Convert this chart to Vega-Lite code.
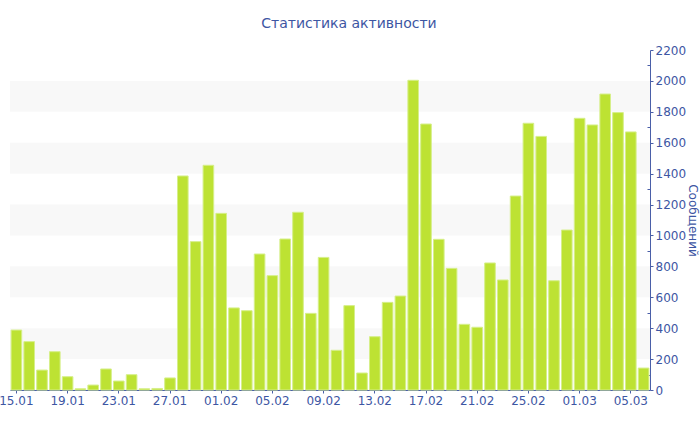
{
  "$schema": "https://vega.github.io/schema/vega-lite/v6.json",
  "width": 640,
  "height": 340,
  "autosize": {"type": "none"},
  "padding": {"left": 10, "top": 50, "right": 50, "bottom": 40},
  "background": "white",
  "title": {"text": "Статистика активности", "fontSize": 14, "font": "DejaVu Sans", "fontWeight": "normal", "color": "#3d56a3", "offset": 13, "dx": 19},
  "config": {
    "view": {"stroke": null},
    "axisY": {
      "orient": "right", "titleFontSize": 12, "titleFontWeight": "normal", "titleColor": "#3d56a3", "titlePadding": 0,
      "labelFontSize": 12, "labelColor": "#3d56a3", "labelPadding": 2,
      "labelOverlap": false, "labelBound": false, "labelFlush": false,
      "domainColor": "#4a5fa8", "tickColor": "#4a5fa8", "grid": false
    },
    "axis": {"labelFont": "DejaVu Sans", "titleFont": "DejaVu Sans"}
  },
  "datasets": {
    "stripes": [
      {"lo": 200, "hi": 400}, {"lo": 600, "hi": 800}, {"lo": 1000, "hi": 1200}, {"lo": 1400, "hi": 1600}, {"lo": 1800, "hi": 2000}
    ],
    "days": [
      {"d": "15.01", "n": 388}, {"d": "16.01", "n": 313}, {"d": "17.01", "n": 129}, {"d": "18.01", "n": 248},
      {"d": "19.01", "n": 86}, {"d": "20.01", "n": 8}, {"d": "21.01", "n": 32}, {"d": "22.01", "n": 136},
      {"d": "23.01", "n": 58}, {"d": "24.01", "n": 99}, {"d": "25.01", "n": 8}, {"d": "26.01", "n": 10},
      {"d": "27.01", "n": 78}, {"d": "28.01", "n": 1385}, {"d": "29.01", "n": 960}, {"d": "30.01", "n": 1454},
      {"d": "01.02", "n": 1143}, {"d": "02.02", "n": 531}, {"d": "03.02", "n": 513}, {"d": "04.02", "n": 880},
      {"d": "05.02", "n": 740}, {"d": "06.02", "n": 977}, {"d": "07.02", "n": 1150}, {"d": "08.02", "n": 496},
      {"d": "09.02", "n": 858}, {"d": "10.02", "n": 257}, {"d": "11.02", "n": 546}, {"d": "12.02", "n": 110},
      {"d": "13.02", "n": 345}, {"d": "14.02", "n": 567}, {"d": "15.02", "n": 608}, {"d": "16.02", "n": 2004},
      {"d": "17.02", "n": 1721}, {"d": "18.02", "n": 975}, {"d": "19.02", "n": 787}, {"d": "20.02", "n": 425},
      {"d": "21.02", "n": 406}, {"d": "22.02", "n": 822}, {"d": "23.02", "n": 712}, {"d": "24.02", "n": 1255},
      {"d": "25.02", "n": 1726}, {"d": "26.02", "n": 1641}, {"d": "27.02", "n": 707}, {"d": "28.02", "n": 1035},
      {"d": "01.03", "n": 1758}, {"d": "02.03", "n": 1715}, {"d": "03.03", "n": 1915}, {"d": "04.03", "n": 1795},
      {"d": "05.03", "n": 1670}, {"d": "06.03", "n": 142}
    ]
  },
  "layer": [
    {
      "data": {"name": "stripes"},
      "mark": {"type": "rect", "color": "#f8f8f8"},
      "encoding": {
        "y": {
          "field": "lo", "type": "quantitative", "scale": {"domain": [0, 2200], "nice": false},
          "axis": {
            "title": "Сообщений",
            "values": [0, 100, 200, 300, 400, 500, 600, 700, 800, 900, 1000, 1100, 1200, 1300, 1400, 1500, 1600, 1700, 1800, 1900, 2000, 2100, 2200],
            "labelExpr": "datum.value % 200 == 0 ? datum.value : ''",
            "tickSize": {"condition": {"test": "datum.value % 200 == 0", "value": 3}, "value": -3}
          }
        },
        "y2": {"field": "hi"}
      }
    },
    {
      "data": {"name": "days"},
      "mark": {"type": "bar", "fill": "#bde233", "stroke": "#d6ef8a", "strokeWidth": 1},
      "encoding": {
        "x": {
          "field": "d", "type": "ordinal", "sort": null,
          "scale": {"paddingInner": 0.17, "paddingOuter": 0.085},
          "axis": {
            "title": null,
            "values": ["15.01", "19.01", "23.01", "27.01", "01.02", "05.02", "09.02", "13.02", "17.02", "21.02", "25.02", "01.03", "05.03"],
            "labelAngle": 0, "labelFontSize": 12, "labelColor": "#3d56a3", "labelPadding": 2,
            "labelOverlap": false, "labelBound": false, "labelFlush": false,
            "domainColor": "#4a5fa8", "tickColor": "#4a5fa8", "tickSize": 3, "grid": false
          }
        },
        "y": {
          "field": "n", "type": "quantitative",
          "scale": {"domain": [0, 2200], "nice": false},
          "axis": {
            "title": "Сообщений",
            "values": [0, 100, 200, 300, 400, 500, 600, 700, 800, 900, 1000, 1100, 1200, 1300, 1400, 1500, 1600, 1700, 1800, 1900, 2000, 2100, 2200],
            "labelExpr": "datum.value % 200 == 0 ? datum.value : ''",
            "tickSize": {"condition": {"test": "datum.value % 200 == 0", "value": 3}, "value": -3}
          }
        }
      }
    }
  ]
}
